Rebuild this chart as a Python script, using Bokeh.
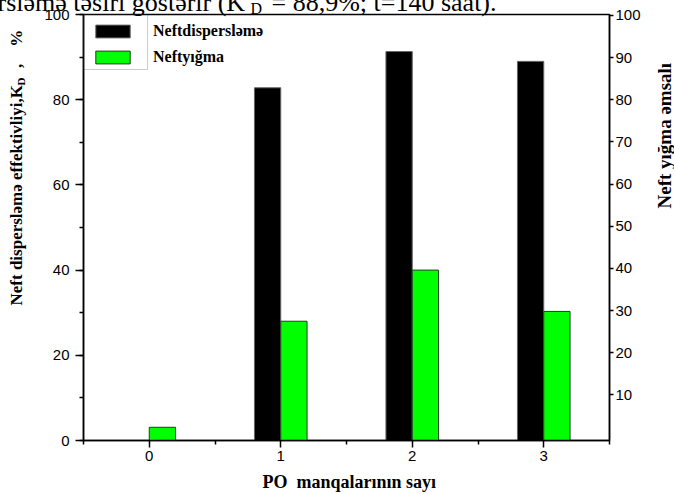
import math
from bokeh.plotting import figure
from bokeh.models import (Range1d, LinearAxis, FixedTicker, SingleIntervalTicker, Title,
                          BoxAnnotation, Legend, LegendItem, ColumnDataSource)
from bokeh.transform import dodge
from bokeh.embed import file_html
from bokeh.resources import INLINE

# ---- data ----
categories = [0, 1, 2, 3]
dispersion = [0.0, 82.8, 91.3, 89.0]     # Neftdispersləmə (K_D, %)
collection = [3.1, 28.0, 40.0, 30.3]     # Neftyığma
right_ticks = [10, 20, 30, 40, 50, 60, 70, 80, 90, 100]
x_major_ticks = [0, 1, 2, 3]
x_minor_ticks = [-0.5, 0.5, 1.5, 2.5, 3.5]

W, H = 674, 494
BL, BR, BT, BB = 83, 65, 14, 54
FH = H - BT - BB
NB = "\u00a0"
serif = "Liberation Serif"

src = ColumnDataSource(dict(x=categories, d=dispersion, c=collection))

p = figure(width=W, height=H, x_range=Range1d(-0.5, 3.5), y_range=Range1d(0, 100),
           output_backend="svg", toolbar_location=None,
           x_axis_location=None, y_axis_location=None,
           min_border_left=BL, min_border_right=BR, min_border_top=BT, min_border_bottom=BB,
           background_fill_color="white", border_fill_color="white")
p.title_location = None
p.grid.grid_line_color = None
p.outline_line_color = "black"
p.outline_line_width = 1.5
p.extra_y_ranges = {"y2": Range1d(-0.8, 100.2)}

r1 = p.vbar(x=dodge("x", -0.1), top="d", width=0.2, bottom=0, source=src,
            fill_color="black", line_color="#666666", line_width=1)
r2 = p.vbar(x=dodge("x", 0.1), top="c", width=0.2, bottom=0, source=src,
            fill_color="#00FF00", line_color="#1f3f1f", line_width=1)


def style(ax):
    ax.axis_line_color = "black"
    ax.axis_line_width = 1.5
    ax.major_tick_line_color = "black"
    ax.major_tick_line_width = 1.5
    ax.minor_tick_line_color = "black"
    ax.minor_tick_line_width = 1.5
    ax.major_tick_in = 0
    ax.minor_tick_in = 0
    ax.major_label_text_font = "Liberation Sans"
    ax.major_label_text_font_size = "15px"
    ax.major_label_text_color = "black"


# bottom axis
xb = LinearAxis(ticker=FixedTicker(ticks=x_major_ticks, minor_ticks=x_minor_ticks))
style(xb)
xb.major_tick_out = 7
xb.minor_tick_out = 4
xb.major_label_standoff = 3
p.add_layout(xb, "below")

# left axis
yl = LinearAxis(ticker=SingleIntervalTicker(interval=20, num_minor_ticks=2))
style(yl)
yl.major_tick_out = 8
yl.minor_tick_out = 4
yl.major_label_standoff = 6
p.add_layout(yl, "left")

# right axis
yr = LinearAxis(y_range_name="y2", ticker=FixedTicker(ticks=right_ticks))
style(yr)
yr.major_tick_out = 4
yr.minor_tick_out = 0
yr.major_label_standoff = 2
p.add_layout(yr, "right")

# right title, carried by a tick-less axis outside the right axis
yr2 = LinearAxis(y_range_name="y2", ticker=FixedTicker(ticks=[]))
yr2.axis_line_color = None
yr2.major_tick_in = yr2.major_tick_out = 0
yr2.minor_tick_in = yr2.minor_tick_out = 0
yr2.major_label_standoff = 0
yr2.axis_label = NB * 4 + "Neft yığma əmsalı\n"
yr2.axis_label_text_font = serif
yr2.axis_label_text_font_size = "19px"
yr2.axis_label_text_font_style = "bold"
yr2.axis_label_text_color = "black"
yr2.axis_label_text_line_height = -1.2
yr2.axis_label_standoff = 8
try:
    yr2.axis_label_orientation = math.pi / 2
except Exception:
    pass
p.add_layout(yr2, "right")

# legend (swatches boxed, labels outside the box)
legend = Legend(items=[LegendItem(label="Neftdispersləmə", renderers=[r1]),
                       LegendItem(label="Neftyığma", renderers=[r2])],
                location="top_left", margin=0, padding=8, spacing=8,
                glyph_width=43, glyph_height=16, label_height=16, label_standoff=19,
                label_text_font=serif, label_text_font_style="bold",
                label_text_font_size="16px", label_text_color="black",
                border_line_alpha=0, background_fill_alpha=0)
p.add_layout(legend)

p.add_layout(BoxAnnotation(left=0, right=64, top=FH, bottom=FH - 55,
                           left_units="screen", right_units="screen",
                           top_units="screen", bottom_units="screen",
                           fill_color=None, fill_alpha=0, line_color="#555555", line_width=1))


def side_title(text, place, size, bold, offset, standoff, lh):
    p.add_layout(Title(text=text, align="left", vertical_align="middle", offset=offset,
                       standoff=standoff, text_font=serif, text_font_size=size,
                       text_font_style="bold" if bold else "normal", text_color="black",
                       text_line_height=lh), place)


# left axis title: "Neft dispersləmə effektivliyi,K_D, %"
side_title("Neft dispersləmə effektivliyi,K" + NB * 4 + ", " + NB * 3 + "%\n", "left",
           "17px", True, 135, -70, 2.6)
side_title("D\n", "left", "11px", True, 355, -55, 3.36)

# bottom axis title
side_title("\nPO" + NB + " manqalarının sayı", "below", "18px", True, 179, -58, 1.81)

# cropped line of document text at the very top
side_title("rsləmə təsiri göstərir (K\n", "above", "26px", False, -86, -55, 0.82)
side_title("D\n", "above", "16px", False, 167, -33, 0.727)
side_title("= 88,9%; t=140 saat).\n", "above", "26px", False, 188, -55, 0.82)

open("out.html", "w").write(file_html(p, INLINE))
